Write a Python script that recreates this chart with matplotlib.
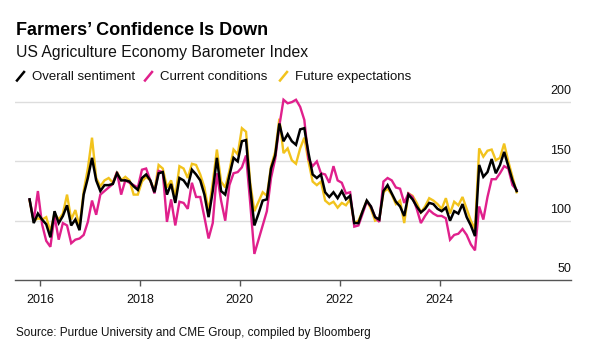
import numpy as np
import pandas as pd
import matplotlib
matplotlib.use("Agg")
import matplotlib.pyplot as plt
from matplotlib.lines import Line2D

plt.rcParams['font.family'] = ['Liberation Sans', 'DejaVu Sans']

# monthly readings, Oct 2015 .. Jul 2025
months = pd.period_range('2015-10', '2025-07', freq='M')

overall = [
    118, 98, 106, 101, 97, 86, 108, 98, 104, 113, 96, 101,
    92, 122, 136, 153, 134, 125, 130, 130, 131, 140, 134, 134,
    133, 129, 126, 136, 139, 134, 124, 140, 141, 122, 131, 115,
    136, 134, 129, 143, 139, 134, 122, 103, 125, 153, 125, 122,
    138, 153, 150, 167, 168, 128, 96, 106, 117, 118, 144, 155,
    182, 167, 173, 167, 164, 177, 178, 157, 139, 136, 139, 124,
    120, 124, 119, 125, 118, 121, 98, 98, 108, 117, 112, 103,
    101, 125, 130, 123, 116, 112, 104, 122, 118, 112, 107, 110,
    115, 114, 110, 108, 111, 100, 108, 106, 114, 103, 96, 87,
    147, 137, 141, 152, 140, 147, 158, 146, 134, 125,
]
current = [
    118, 100, 125, 97, 83, 78, 104, 84, 98, 96, 81, 84,
    85, 88, 99, 117, 105, 122, 125, 128, 131, 141, 122, 134,
    132, 130, 128, 143, 144, 134, 123, 142, 141, 99, 118, 96,
    116, 115, 110, 132, 120, 120, 103, 85, 98, 140, 117, 100,
    130, 140, 141, 145, 155, 115, 72, 84, 96, 108, 136, 152,
    180, 202, 199, 200, 202, 196, 185, 152, 146, 150, 140, 139,
    132, 146, 134, 132, 123, 124, 95, 96, 106, 116, 112, 103,
    99, 133, 136, 134, 128, 127, 115, 123, 120, 110, 98, 104,
    109, 106, 104, 104, 102, 84, 88, 89, 93, 88, 80, 75,
    112, 101, 120, 135, 135, 140, 146, 144, 130, 126,
]
future = [
    117, 100, 102, 101, 103, 91, 106, 101, 106, 122, 101, 109,
    95, 125, 144, 170, 136, 129, 134, 136, 132, 141, 134, 137,
    134, 122, 122, 133, 137, 134, 125, 147, 144, 128, 134, 120,
    146, 144, 136, 148, 147, 139, 128, 108, 132, 160, 133, 128,
    142, 160, 156, 178, 175, 132, 108, 116, 124, 121, 146, 158,
    186, 157, 161, 151, 148, 161, 170, 150, 133, 130, 133, 117,
    114, 116, 111, 115, 113, 118, 98, 100, 108, 117, 110, 100,
    101, 124, 127, 122, 114, 117, 98, 123, 121, 115, 107, 112,
    119, 117, 114, 110, 119, 106, 116, 113, 120, 110, 100, 93,
    161, 154, 159, 160, 151, 153, 165, 150, 137, 124,
]

x = np.array([p.year + (p.month - 0.5) / 12 for p in months])

year_ticks = [2016, 2018, 2020, 2022, 2024]
y_ticks = [50, 100, 150, 200]

c_black = '#000000'
c_pink = '#e0208c'
c_gold = '#f2c31d'

W, H = 595, 356
fig = plt.figure(figsize=(W / 100, H / 100), dpi=100)
ax = fig.add_axes([15 / W, 1 - 280 / H, (571 - 15) / W, (280 - 95) / H])

ax.plot(x, future, color=c_gold, lw=1.7, solid_joinstyle='miter', zorder=3)
ax.plot(x, current, color=c_pink, lw=1.7, solid_joinstyle='miter', zorder=4)
ax.plot(x, overall, color=c_black, lw=1.8, solid_joinstyle='miter', zorder=5)

ax.set_xlim(2015.5, 2026.63)
ax.set_ylim(50, 206)

for v in y_ticks[1:]:
    ax.axhline(v, color='#dddddd', lw=1.0, zorder=1)
for v in y_ticks:
    ax.annotate(str(v), xy=(1.0, v), xycoords=('axes fraction', 'data'),
                xytext=(0, 3.5), textcoords='offset points',
                ha='right', va='bottom', fontsize=9, color='#111111')

for s in ['top', 'right', 'left']:
    ax.spines[s].set_visible(False)
ax.spines['bottom'].set_color('#555555')
ax.spines['bottom'].set_linewidth(1.0)
ax.set_yticks([])
ax.set_xticks(year_ticks)
ax.set_xticklabels([str(y) for y in year_ticks])
ax.tick_params(axis='x', length=4, width=1, color='#555555', labelsize=9,
               pad=6, labelcolor='#111111')

def fx(px):
    return px / W

def fy(py):
    return 1 - py / H

fig.text(fx(16), fy(35), "Farmers\u2019 Confidence Is Down", fontsize=13,
         fontweight='bold', va='baseline', ha='left', color='#000000')
fig.text(fx(16), fy(57), "US Agriculture Economy Barometer Index", fontsize=11.3,
         va='baseline', ha='left', color='#111111')

legend_items = [("Overall sentiment", c_black, 16),
                ("Current conditions", c_pink, 144),
                ("Future expectations", c_gold, 279)]
for label, col, px in legend_items:
    fig.add_artist(Line2D([fx(px + 1), fx(px + 8)], [fy(80.5), fy(72)],
                          color=col, lw=1.8))
    fig.text(fx(px + 16), fy(80), label, fontsize=9.5, va='baseline',
             ha='left', color='#111111')

fig.text(fx(16), fy(336), "Source: Purdue University and CME Group, compiled by Bloomberg",
         fontsize=8.5, va='baseline', ha='left', color='#111111')

fig.savefig('out.png', dpi=100)
